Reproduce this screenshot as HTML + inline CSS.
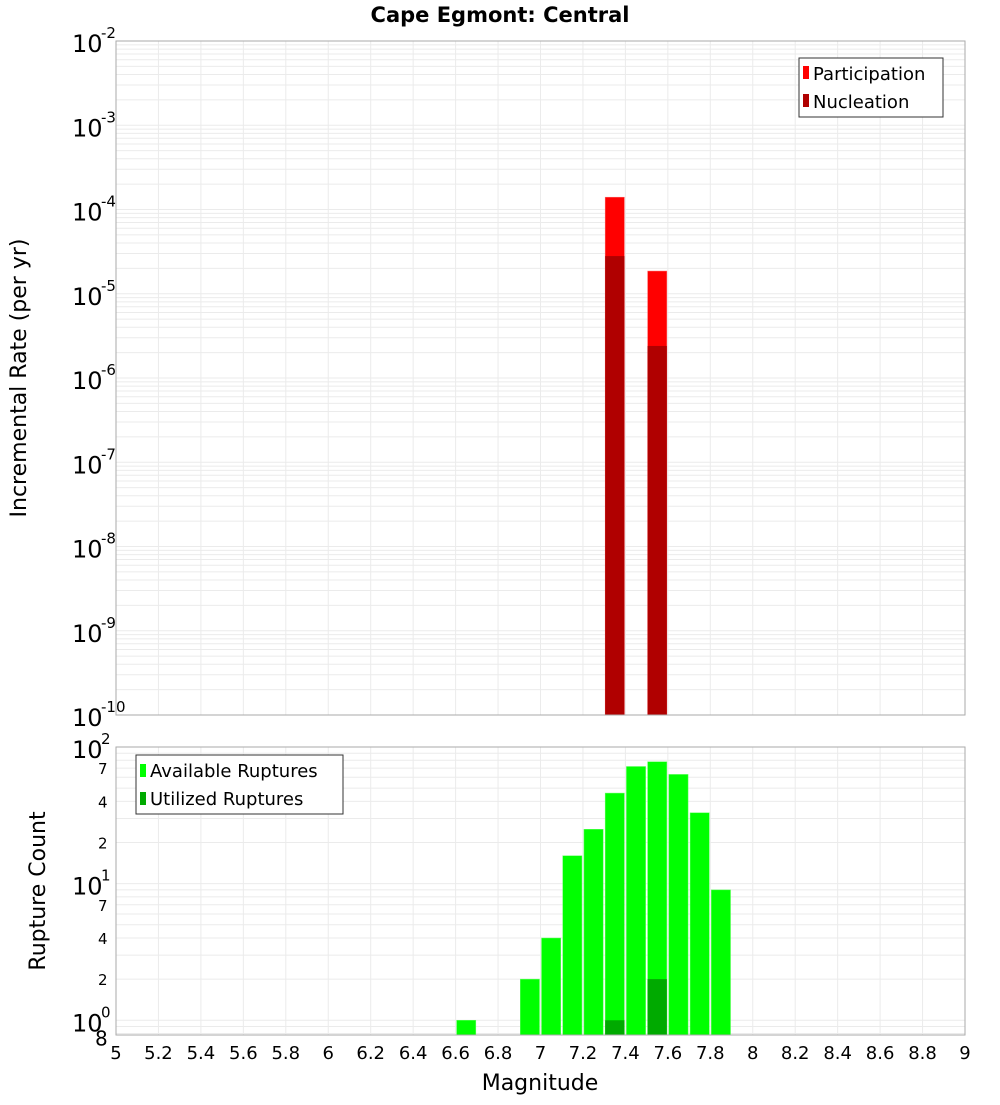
<!DOCTYPE html>
<html><head><meta charset="utf-8"><style>
body{margin:0;background:#fff;}
svg{font-family:"DejaVu Sans","Liberation Sans",sans-serif;}
</style></head><body>
<svg id="chart" width="1000" height="1100" xmlns="http://www.w3.org/2000/svg">
<text x="500" y="22" text-anchor="middle" font-size="21" font-weight="bold">Cape Egmont: Central</text>
<g id="gtop"></g>
<g id="gbot"></g>
<text transform="translate(26,378) rotate(-90)" text-anchor="middle" font-size="22">Incremental Rate (per yr)</text>
<text transform="translate(45,891) rotate(-90)" text-anchor="middle" font-size="22">Rupture Count</text>
<text x="540" y="1090" text-anchor="middle" font-size="22">Magnitude</text>
<g>
<rect x="799" y="58" width="144" height="59" fill="#fff" stroke="#333"/>
<rect x="803" y="66" width="6" height="13" fill="#ff0000"/>
<text x="813" y="80" font-size="18">Participation</text>
<rect x="803" y="94" width="6" height="13" fill="#b00000"/>
<text x="813" y="108" font-size="18">Nucleation</text>
</g>
<g>
<rect x="136" y="755" width="207" height="59" fill="#fff" stroke="#333"/>
<rect x="140" y="764" width="6" height="13" fill="#00ff00"/>
<text x="150" y="777" font-size="18">Available Ruptures</text>
<rect x="140" y="792" width="6" height="13" fill="#00aa00"/>
<text x="150" y="805" font-size="18">Utilized Ruptures</text>
</g>
</svg>
<script>
const rateMags=[7.3,7.5];
const participation=[1.4e-4,1.86e-5];
const nucleation=[2.8e-5,2.4e-6];
const countMags=[6.6,6.9,7.0,7.1,7.2,7.3,7.4,7.5,7.6,7.7,7.8];
const available=[1,2,4,16,25,46,72,78,63,33,9];
const utilizedMags=[7.3,7.5];
const utilized=[1,2];
const xTicks=[5,5.2,5.4,5.6,5.8,6,6.2,6.4,6.6,6.8,7,7.2,7.4,7.6,7.8,8,8.2,8.4,8.6,8.8,9];
const rateDecades=[-2,-3,-4,-5,-6,-7,-8,-9,-10];
const countDecades=[0,1,2];

const NS="http://www.w3.org/2000/svg";
const X0=116,X1=965;
const xs=m=>X0+(m-5)/4*(X1-X0);
const T0=41,T1=715;
const yT=v=>T0+(-2-Math.log10(v))/8*(T1-T0);
const B0=747,B1=1035,BMIN=0.78,BMAX=100;
const yB=v=>B0+(Math.log10(BMAX)-Math.log10(v))/(Math.log10(BMAX)-Math.log10(BMIN))*(B1-B0);
function mk(p,t,a){const e=document.createElementNS(NS,t);for(const k in a)e.setAttribute(k,a[k]);p.appendChild(e);return e;}
const gTop=document.getElementById('gtop'),gBot=document.getElementById('gbot');
function grid(g,y0,y1,yf,lo,hi){
  for(let d=lo;d<hi;d++)for(let k=1;k<10;k++){const v=k*Math.pow(10,d);const yy=yf(v);if(yy<y0-0.5||yy>y1+0.5)continue;
    const l=mk(g,'line',{x1:X0,x2:X1,y1:yy,y2:yy,stroke:'#ebebeb','stroke-width':1});
    
    }
  xTicks.forEach(t=>{const l=mk(g,'line',{x1:xs(t),x2:xs(t),y1:y0,y2:y1,stroke:'#ebebeb','stroke-width':1});
    
    });
}
grid(gTop,T0,T1,yT,-10,-2);
grid(gBot,B0,B1,yB,-1,2);
const bw=0.1;
rateMags.forEach((m,i)=>{
  const r=mk(gTop,'rect',{x:xs(m)+1,width:xs(m+bw)-xs(m)-2,y:yT(participation[i]),height:T1-yT(participation[i]),fill:'#ff0000',stroke:'#ff6666','stroke-width':0.5});
  
  
  const n=mk(gTop,'rect',{x:xs(m)+1,width:xs(m+bw)-xs(m)-2,y:yT(nucleation[i]),height:T1-yT(nucleation[i]),fill:'#b00000'});
  
  
});
countMags.forEach((m,i)=>{
  const r=mk(gBot,'rect',{x:xs(m)+1,width:xs(m+bw)-xs(m)-2,y:yB(available[i]),height:B1-yB(available[i]),fill:'#00ff00',stroke:'#66ff66','stroke-width':0.5});
  
  
});
utilizedMags.forEach((m,i)=>{
  const r=mk(gBot,'rect',{x:xs(m)+1,width:xs(m+bw)-xs(m)-2,y:yB(utilized[i]),height:B1-yB(utilized[i]),fill:'#00aa00'});
  
  
});
const f1=mk(gTop,'rect',{x:X0,y:T0,width:X1-X0,height:T1-T0,fill:'none',stroke:'#aaa'});


const f2=mk(gBot,'rect',{x:X0,y:B0,width:X1-X0,height:B1-B0,fill:'none',stroke:'#aaa'});


function decLabel(g,yy,e){
  const t=mk(g,'text',{x:72,y:yy+11,'font-size':24});
  t.textContent='10';
  
  
  const s=mk(g,'text',{x:101,y:yy-3,'font-size':15});
  s.textContent=String(e);
  
  
}
rateDecades.forEach(d=>decLabel(gTop,yT(Math.pow(10,d)),d));
countDecades.forEach(d=>decLabel(gBot,yB(Math.pow(10,d)),d));
[[2,0],[4,0],[7,0],[2,1],[4,1],[7,1],[0.8,-1]].forEach(([k,d])=>{
  const v=d<0?k:k*Math.pow(10,d);
  const t=mk(gBot,'text',{x:d<0?95:98,y:yB(v)+(d<0?12:6),'font-size':d<0?20:15});
  t.textContent=d<0?'8':String(k);
  
  
});
xTicks.forEach(t=>{
  const e=mk(gBot,'text',{x:xs(t),y:1059,'font-size':18,'text-anchor':'middle'});
  e.textContent=String(t);
  
  
});
</script>
</body></html>
